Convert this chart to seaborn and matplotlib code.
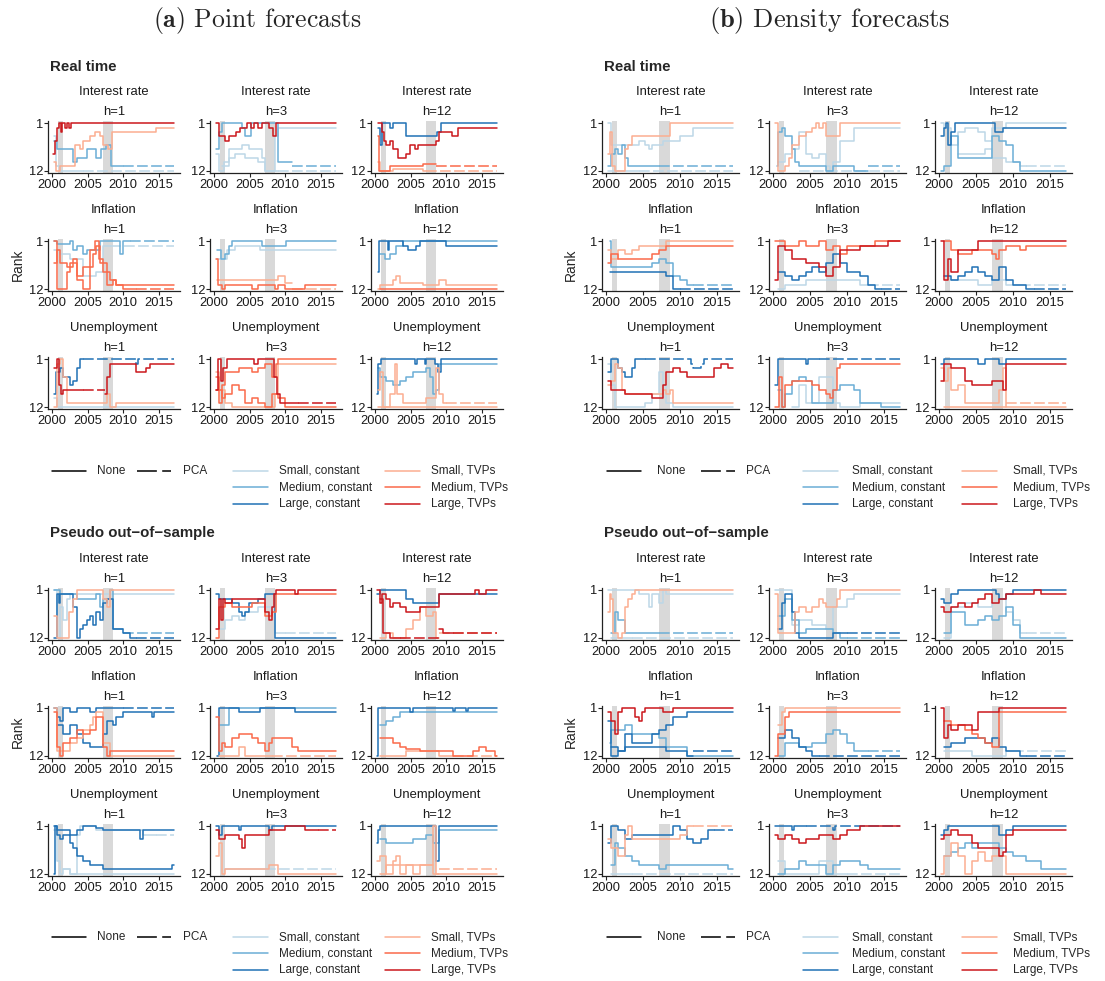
import numpy as np
import pandas as pd
import seaborn as sns
import matplotlib.pyplot as plt
from matplotlib.lines import Line2D

# ---- data ---------------------------------------------------------------
START, END = 2000.3, 2017.1
RECESSIONS = [(2000.85, 2001.5), (2007.15, 2008.6)]

VARIABLES = ['Interest rate', 'Inflation', 'Unemployment']
VAR_KEYS = ['IR', 'INF', 'UN']
HORIZONS = [1, 3, 12]
X_TICKS = [2000, 2005, 2010, 2015]
Y_TICKS = [1, 12]

MODELS = ['sc', 'mc', 'lc', 'st', 'mt', 'lt']
MODEL_LABELS = ['Small, constant', 'Medium, constant', 'Large, constant',
                'Small, TVPs', 'Medium, TVPs', 'Large, TVPs']
MODEL_COLORS = ['#BDD7E7', '#6BAED6', '#2171B5', '#FCAE91', '#FB6A4A', '#CB181D']

# rank paths: (model, first linetype n=None / p=PCA, "year:rank ..."), '|' toggles linetype
POINT_REALTIME = {
    'IR1': [('sc', 'n', "2000.3:4 2000.6:11 2001.15:12 | 2004.4:12"),
            ('mc', 'n', "2000.3:5 2000.65:7 2003.0:10 2003.45:9 2004.9:7 2006.25:9 2006.85:7 2007.6:6 2008.3:11 | 2009.95:11"),
            ('st', 'n', "2000.3:10 2000.6:12 2001.15:11 2003.1:11 2003.3:6 2003.95:7 2004.4:5 2005.3:4 2006.1:3 2006.75:4 2007.2:6 2007.9:7 2008.4:3 2014.6:2"),
            ('lt', 'n', "2000.2:8 2000.5:5 2000.65:2 2000.95:1 2001.25:3 2001.45:1 2001.8:2 2002.1:1 2002.4:2 2002.7:1")],
    'IR3': [('sc', 'n', "2000.3:8 2000.65:12 2001.45:10 2002.1:7 2003.95:6 2004.9:7 2006.75:9 2007.2:12 2008.6:4 2009.0:2"),
            ('sc', 'n', "2001.15:11 2002.1:9 2003.0:8 2004.4:9 2006.25:10 2007.2:12 | 2009.0:12"),
            ('mc', 'n', "2000.3:7 2000.65:3 2001.15:1 2003.95:2 2004.4:4 2005.2:1 2008.6:1 2009.0:10 | 2010.9:11"),
            ('lt', 'n', "2000.3:1 2000.65:4 2001.6:5 2002.1:4 2003.1:3 2003.65:2 2004.7:1 2005.2:2 2005.6:1 2006.25:2 2006.75:1 2007.7:2 2008.3:4 2008.7:1")],
    'IR12': [('st', 'n', "2000.4:10 2000.65:12 2002.5:11.5 2006.75:12 | 2007.2:12"),
             ('mt', 'n', "2000.4:4 2000.6:12 2002.1:11 2006.75:10.5 | 2008.6:11"),
             ('lc', 'n', "2000.4:2 2000.65:6 2000.95:1 2002.1:2 2002.5:1 2003.95:1 2004.4:4 2008.4:4 2008.7:3 2009.3:1"),
             ('lt', 'n', "2000.4:1 2000.95:3 2001.25:5 2001.6:6 2002.1:5 2002.5:7 2003.2:9 2004.4:8 2004.9:6 2005.6:7 2006.1:6 2008.6:5 2009.0:3 2010.75:4 2011.7:2")],
    'INF1': [('sc', 'n', "2000.3:3 2001.15:4 2002.5:5 2004.4:9 2006.25:8 2007.2:2 | 2008.1:2"),
             ('mc', 'n', "2000.3:1 2000.65:1.5 2002.5:1 2003.0:3 2003.45:2 2004.4:4 2004.9:3 2006.75:1 2009.3:1 2009.5:4 2009.95:1 | 2010.9:1"),
             ('mt', 'n', "2000.3:1 2000.65:12 2001.8:12 2002.1:8 2002.5:6 2003.45:10 2004.4:12 2005.3:7 2005.8:4 2006.25:2 2006.75:6 2007.7:11 2008.6:10 2009.0:11 2009.95:12 | 2011.8:12"),
             ('mt', 'n', "2000.3:6 2000.65:3 2001.15:6 2002.1:7 2003.0:5 2003.45:9 2004.4:7 2005.3:3 2006.1:1 2006.55:5 2007.2:8 2008.1:10 2009.0:11")],
    'INF3': [('sc', 'n', "2000.5:5 2001.45:5 2001.9:3 2003.0:2 2006.45:3"),
             ('mc', 'n', "2000.5:3 2000.95:5 2001.6:4 2002.1:2 2002.5:1 2006.75:2 2010.15:1"),
             ('st', 'n', "2000.5:10 2001.6:10 2009.0:9 2009.95:10.5 | 2010.9:12"),
             ('mt', 'n', "2000.3:5 2000.6:11 2001.15:12 2001.6:11 2005.3:12 2006.25:11 2008.6:12 2009.0:11 2009.95:12 2012.75:11")],
    'INF12': [('mc', 'n', "2000.65:4 2001.45:5 2002.1:4 2003.0:2 2003.95:1"),
              ('lc', 'n', "2000.4:8 2000.6:1 2001.8:3 2002.0:1 2003.95:2 2004.7:3 2005.8:2 2006.25:1 2009.95:2"),
              ('st', 'n', "2000.5:12 2000.65:11 2002.5:10 2003.0:9 2003.45:10.5 2006.75:11 2009.0:10 2009.95:11"),
              ('mt', 'n', "2000.65:12")],
    'UN1': [('sc', 'n', "2000.3:10 2000.65:12"),
            ('st', 'n', "2000.3:12 2000.65:2 2001.15:1 2001.6:5 2002.1:11 2007.2:11 2007.7:9 2008.1:12 2009.0:11"),
            ('lc', 'n', "2000.3:9 2000.6:4 2001.15:3 2001.6:5 2002.5:7 2003.0:6 2003.45:3 2003.95:1 | 2004.4:1 2011.8:2 2012.1:1"),
            ('lt', 'n', "2000.3:3 2000.65:1 2000.95:7 2001.35:9 2001.6:8 | 2004.4:8 | 2007.5:9 2007.7:5 2008.1:2 2011.4:2 2011.8:4 2013.25:3 2013.7:2")],
    'UN3': [('st', 'n', "2000.3:4 2000.65:8 2001.6:11 2002.5:12 2007.2:12 2008.6:9 2009.0:2"),
            ('mt', 'n', "2000.3:5 2000.65:11 2001.15:7 2001.6:4 2003.45:3 2005.3:4 2006.25:3 2007.2:2 2008.1:5 2008.7:2 2009.0:1"),
            ('mt', 'n', "2000.3:8 2001.15:10 2001.6:9 2002.5:7 2003.45:8 2004.4:11 2005.3:10 2006.25:11 2007.2:12 2008.1:9 2009.0:10 2009.95:12"),
            ('lt', 'n', "2000.3:8 2000.6:1 2000.95:6 2001.35:3 2001.9:1 2005.6:2 2006.25:1 2007.95:1 2008.4:5 2008.9:9 2009.3:11 | 2011.8:11")],
    'UN12': [('st', 'n', "2000.5:12"),
             ('st', 'n', "2000.4:8 2000.65:4 2001.15:12 2002.1:9 2002.8:2 2003.1:9 2003.95:11 2007.2:10 2008.6:3 2009.0:9 2009.5:11 | 2009.95:11"),
             ('mc', 'n', "2000.4:3 2000.65:5 2001.6:6 2002.5:7 2003.45:6 2004.4:5 2005.3:4 2007.2:3 2007.7:5 2008.1:9 2008.6:8 2009.0:2"),
             ('lc', 'n', "2000.3:9 2000.5:2 2000.85:1 2005.6:2 2005.9:1 2007.05:2 2007.2:1 2008.4:2 2008.9:4 2009.3:1")],
}

POINT_PSEUDO = {
    'IR1': [('sc', 'n', "2000.3:1 2000.65:12 2001.15:5 2001.6:8 2002.1:3 2002.5:2"),
            ('st', 'n', "2000.3:7 2000.65:12 2002.1:12 2002.4:6 2003.0:3 2003.45:1 2006.75:1 2007.2:3 2007.7:5 2008.1:1"),
            ('mc', 'n', "2000.3:1 2001.15:2 2003.0:2 2003.45:3 2005.3:3 2006.25:2 2006.75:5 2007.2:3 2008.1:1 2008.6:10 | 2009.95:11"),
            ('lc', 'n', "2000.3:12 2000.65:2 2000.95:4 2001.15:2 2002.5:2 2003.0:5 2003.45:12 2003.95:10 2004.4:9 2004.9:8 2005.3:7 2005.8:9 2006.25:6 2006.75:8 2007.2:4 2007.7:3 2008.1:3 2008.6:10 2009.95:11 2010.9:12 | 2011.8:12")],
    'IR3': [('sc', 'n', "2000.65:10 2001.6:8 2002.5:7 2003.45:8 2004.4:6 2006.25:5 2008.1:6 2008.6:11 | 2009.95:11"),
            ('lc', 'n', "2000.3:2 2000.65:3 2002.5:4 2003.45:6 2003.95:7 2004.4:6 2004.9:4 2006.25:3 2007.2:2 2008.1:2 2008.6:12"),
            ('mt', 'n', "2000.3:12 2000.65:5 2001.6:4 2002.5:5 2005.3:4 2007.2:7 2008.1:6 2008.7:2"),
            ('lt', 'n', "2000.3:10 2000.65:3 2000.95:8 2001.35:3 2001.6:4 2002.5:3 2006.75:3 2007.2:6 2007.7:8 2008.1:5 2008.4:2 2008.7:1 2010.9:1 2011.4:2 2011.8:1")],
    'IR12': [('st', 'n', "2000.65:12 2001.6:11 2002.5:12 2004.4:10 2005.3:8 2006.25:5 2007.2:7 2008.1:6 2008.6:12 | 2009.0:11"),
             ('lc', 'n', "2000.3:2 2000.65:1 2003.45:1 2004.4:3 2005.3:4 2008.1:4 2009.0:2"),
             ('lt', 'n', "2000.65:3 2001.15:11 2002.1:12 | 2003.45:12 | 2009.0:10 2009.5:11 | 2010.9:11"),
             ('lt', 'n', "2000.3:1 2000.65:4 2000.95:2 2001.6:3 2002.1:5 2002.5:4 2003.45:5 2004.4:6 2006.25:5 2008.1:5 2009.0:2 2013.7:2 2014.0:1 2014.6:2 2015.55:1")],
    'INF1': [('st', 'n', "2000.3:1 2000.65:11 2001.6:11 2002.5:9 2003.45:8 2004.4:6 2005.3:5 2005.8:3 2006.25:2 2007.2:9 2008.1:12"),
             ('mt', 'n', "2000.3:2 2000.65:10 2001.15:12 2001.6:9 2002.5:8 2003.45:6 2004.4:7 2005.3:6 2006.25:3 2007.2:10 2007.7:12 2008.1:11"),
             ('lc', 'n', "2000.3:1 2000.65:3 2001.15:4 2001.6:1 2002.5:2 2003.45:1 2005.3:2 2006.25:1 | 2009.95:1"),
             ('lc', 'n', "2000.65:5 2001.6:7 2002.5:5 2003.45:7 2004.4:9 2005.3:10 2007.2:7 2007.7:4 2008.6:5 2009.0:3 2009.95:2 2014.0:3 2014.3:2")],
    'INF3': [('st', 'n', "2000.65:12 2003.45:10 2004.4:12 | 2008.1:12"),
             ('mt', 'n', "2000.3:3 2000.65:11 2001.15:9 2001.6:10 2002.5:8 2003.45:7 2004.4:7 2005.3:8 2006.25:9 2007.2:11 2007.7:9 2008.1:8 2010.9:10 2011.8:11"),
             ('mc', 'n', "2000.65:5 2001.6:5 2002.1:1"),
             ('lc', 'n', "2000.5:12 2000.65:1 2002.5:1 2003.45:2 2006.25:2 2006.45:1 2010.9:1 2011.4:2")],
    'INF12': [('st', 'n', "2000.65:12 2004.4:11 2007.2:11 2009.0:12 | 2010.9:12"),
              ('mt', 'n', "2000.65:8 2002.5:9 2003.45:10 2004.4:10.5 2006.25:11 2010.9:12 2013.7:11 2014.6:10 2015.55:11 2016.8:12"),
              ('mc', 'n', "2000.65:5 2001.6:4 2002.5:3 2003.45:2"),
              ('lc', 'n', "2000.3:12 2000.5:1 2004.9:2 2005.3:1 2010.9:1.8 2011.2:1 2012.75:1.8 2013.05:1")],
    'UN1': [('sc', 'n', "2001.6:11 2002.5:12"),
            ('sc', 'n', "2000.3:2 2000.65:9 2001.15:12 2001.6:11 2002.5:12 2003.45:3 2003.95:1 2006.25:2 2012.75:3 | 2014.6:3"),
            ('lc', 'n', "2000.3:1 2000.65:2 2002.5:3 2003.45:2 2004.4:1 2006.25:1.5 2007.2:2 2011.8:2 2012.3:4 2012.75:2"),
            ('lc', 'n', "2000.3:12 2000.5:1 2000.65:3 2001.15:4 2001.6:3 2002.5:5 2003.0:6 2003.45:8 2004.4:9 2005.3:10 2007.2:11 2016.8:10")],
    'UN3': [('sc', 'n', "2001.6:11 | 2007.2:11"),
            ('st', 'n', "2000.3:8 2000.65:5 2001.15:12 2001.6:11 2007.2:11 2007.7:10 2008.6:10 2009.0:12"),
            ('lc', 'n', "2000.3:1 2000.65:3 2001.15:1 2003.45:2 2003.75:1 2007.7:2 2008.1:1"),
            ('lt', 'n', "2000.3:2 2000.65:4 2001.6:3 2003.45:4 2003.95:6 2004.4:3 2007.2:3 2007.7:2 2009.0:2 2009.95:1 2011.8:1 2012.75:2 | 2014.6:2")],
    'UN12': [('st', 'n', "2000.65:12 2001.6:10 2007.2:10 2008.1:12 | 2009.0:11"),
             ('st', 'n', "2000.3:9 2000.65:8 2001.6:12 2002.5:9 2003.0:8 2003.45:12 2004.4:10 2005.3:12 2006.25:10 2007.2:10 2008.1:1 2008.6:12"),
             ('mc', 'n', "2000.65:4 2001.6:5 2003.45:5 2005.3:4 2007.2:3 2008.1:5 2009.0:2"),
             ('lc', 'n', "2000.3:5 2000.5:2 2000.65:1 2008.6:9 2009.0:1")],
}

DENSITY_REALTIME = {
    'IR1': [('sc', 'n', "2000.3:12 | 2004.4:12"),
            ('mc', 'n', "2000.3:11 2000.65:8 2001.15:7 2001.6:8 2002.1:6 2002.5:9 2003.0:11 | 2007.2:11"),
            ('sc', 'n', "2000.3:1 2000.65:6 2003.45:6 2004.4:5 2005.3:6 2005.8:7 2006.25:6 2007.7:5 2009.0:5 2009.95:4 2011.8:2"),
            ('st', 'n', "2000.3:8 2000.6:3 2000.85:11 2001.15:12 2002.1:12 2002.5:7 2003.0:6 2003.45:4 2008.1:4 2008.6:1")],
    'IR3': [('sc', 'p', "2003.45:12"),
            ('sc', 'n', "2000.65:10 2001.6:8 2002.5:7 2003.45:3 2004.4:8 2005.3:9 2006.25:8 2007.2:11 2007.7:12 2008.1:10 2009.0:5 2010.9:2"),
            ('mc', 'n', "2000.5:11 2000.65:3 2001.15:2 2001.6:4 2002.5:7 2003.0:10 2003.45:11 2007.2:12 2008.1:11 2010.9:12 | 2012.75:11"),
            ('st', 'n', "2000.3:1 2000.65:12 2001.6:11 2002.1:9 2002.5:6 2003.45:4 2004.4:3 2005.3:2 2005.8:1 2006.25:2 2006.75:1 2007.2:4 2008.1:4 2009.0:1")],
    'IR12': [('sc', 'n', "2002.5:8 2004.4:8 2006.25:7 2007.2:9 2009.0:10 2010.9:11 | 2011.8:11"),
             ('mc', 'n', "2000.3:12 2000.65:11 2001.6:4 2002.5:9 2006.25:9 2007.2:4 2008.1:5 2009.0:6 2009.95:10 2010.9:12"),
             ('sc', 'n', "2000.3:1 2000.65:2 2001.6:6 2002.5:3 2003.45:2 2005.3:3 2006.25:5 2007.2:2 2009.0:1"),
             ('lc', 'n', "2000.3:4 2000.65:2 2000.95:1 2001.25:6 2001.6:3 2002.1:1 2007.2:1 2007.5:3 2008.6:2")],
    'INF1': [('lc', 'n', "2000.5:8 2008.1:9 2009.0:12 | 2009.95:12"),
             ('mc', 'n', "2000.5:1 2000.65:7 2006.25:6 2007.2:5 2008.1:6 2009.0:9 2009.95:10 2010.9:11 | 2011.8:11"),
             ('mt', 'n', "2000.3:6 2000.65:4 2001.6:5 2006.25:4 2007.2:3 2008.1:2"),
             ('st', 'n', "2000.3:3 2000.65:5 2001.6:3 2002.5:4 2003.45:3 2004.4:2 2008.1:1")],
    'INF3': [('sc', 'n', "2000.65:12 2001.6:11 2004.4:10 2009.0:10 2011.8:11 | 2012.75:11"),
             ('lc', 'n', "2000.65:8 2001.6:9 2002.5:10 2003.45:9 2004.4:8 2005.3:7 2006.25:8 2007.2:6 2008.1:4 2009.0:6 2009.95:8 2011.8:9 2012.75:11 2013.7:12 | 2014.6:12"),
             ('mt', 'n', "2000.3:1 2001.6:2 2003.45:1 2004.4:2 2006.25:1 2007.2:3 2008.1:2 2009.0:4 2009.95:2 2013.7:1"),
             ('lt', 'n', "2000.3:10 2000.65:2 2001.6:3 2002.5:5 2004.4:6 2006.25:7 2007.2:9 2008.1:7 2009.0:3 2011.8:2 2015.55:1")],
    'INF12': [('sc', 'n', "2001.6:10 2005.3:11 2007.2:10 2009.0:11 | 2010.9:11"),
              ('lc', 'n', "2000.65:9 2001.6:10 2002.5:9 2003.45:8 2004.4:7 2005.3:8 2006.25:9 2007.2:10 2008.1:7 2009.0:10 2009.95:11 2011.8:12 | 2012.75:12"),
              ('mt', 'n', "2000.65:1 2001.6:3 2002.5:4 2004.4:3 2007.2:4 2007.7:5 2008.1:3 2009.0:2 2010.9:3 2011.8:2"),
              ('lt', 'n', "2000.3:1 2000.65:10 2001.15:5 2001.6:8 2002.5:3 2004.4:3 2005.3:1")],
    'UN1': [('sc', 'n', "2000.3:2 2000.65:7 2001.15:12 2005.3:11 2006.25:9 2007.2:4 2007.7:7 2008.1:11 2009.0:12"),
            ('st', 'n', "2000.3:7 2000.65:6 2001.15:2 2001.6:3 2002.1:8 2002.5:9 2007.7:8 2008.1:9 2008.6:8 2009.0:11"),
            ('lc', 'n', "2000.3:4 2000.65:1 2001.6:3 2002.1:4 2002.5:5 2003.45:3 2003.95:1 | 2005.3:1 2011.4:2 2011.8:3 2012.75:2 2013.25:1"),
            ('lt', 'n', "2000.3:6 2000.65:8 2002.5:9 2006.25:10 2007.7:7 2008.1:4 2009.0:3 2009.95:4 2010.9:5 2014.6:3 2015.55:2 2016.5:3")],
    'UN3': [('sc', 'n', "2002.5:12 2003.45:7 2004.4:11 2006.25:5 2008.1:11 2009.0:12 2011.8:11"),
            ('mc', 'n', "2000.65:8 2001.15:12 2001.6:9 2002.5:6 2003.45:5 2004.4:6 2005.3:11 2008.1:8 2009.0:7 2010.9:8 2011.8:11 2014.6:12"),
            ('mt', 'n', "2000.3:12 2000.85:5 2001.15:12 2001.6:7 2002.5:6 2004.4:6 2005.3:7 2006.25:8 2007.2:9 2007.7:10 2008.1:8 2008.6:3 2009.0:2"),
            ('lc', 'n', "2000.3:7 2000.65:1 2004.4:2 2004.7:1 | 2006.25:1")],
    'UN12': [('st', 'n', "2000.65:12 2007.2:12 | 2009.0:11"),
             ('st', 'n', "2000.3:3 2000.65:6 2001.15:3 2001.6:8 2002.5:7 2003.45:11 2008.1:8 2008.6:3 2009.0:12"),
             ('lt', 'n', "2000.3:6 2000.65:2 2001.6:3 2003.45:6 2004.4:7 2007.2:6 2008.6:8 2009.0:2"),
             ('lc', 'n', "2000.3:2 2000.65:1 2005.3:2 2006.25:1 2008.1:2 2009.0:1")],
}

DENSITY_PSEUDO = {
    'IR1': [('sc', 'n', "2000.65:12 | 2003.45:12"),
            ('mc', 'n', "2000.65:11 2001.15:6 2001.6:8 2002.5:11 | 2007.2:11"),
            ('sc', 'n', "2000.3:1 2004.4:2 2005.8:5 2006.25:2 2007.2:4 2007.7:1 2008.1:2"),
            ('st', 'n', "2000.3:6 2000.5:2 2000.65:3 2000.95:11 2001.6:12 2002.1:11 2002.5:5 2003.0:3 2003.45:2 2003.95:1")],
    'IR3': [('sc', 'n', "2000.3:1 2002.5:9 2003.45:8 2005.3:9 2007.2:10 2008.1:5 2009.95:3 2010.9:2"),
            ('mc', 'n', "2000.65:7 2001.6:3 2002.5:8 2003.45:11 2004.4:10 2007.2:10 2008.1:11 2009.0:12 | 2009.95:12"),
            ('lc', 'n', "2000.65:10 2001.15:4 2001.6:2 2002.5:6 2003.0:11 2003.45:12 2007.2:12 2008.1:11 | 2009.95:11"),
            ('st', 'n', "2000.3:2 2000.65:11 2002.5:11 2003.0:6 2003.45:5 2004.4:6 2005.3:5 2006.25:3 2006.75:4 2007.2:5 2008.1:5 2008.6:3 2009.0:1")],
    'IR12': [('sc', 'n', "2000.65:12 2001.6:5 2003.45:4 2005.3:5 2007.2:4 2008.1:3 2009.0:6 2009.95:8 2010.9:11 | 2011.8:11"),
             ('mc', 'n', "2000.65:11 2001.6:6 2003.45:9 2005.3:8 2006.25:7 2007.2:8 2008.1:7 2009.0:5 2009.95:9 2010.9:12"),
             ('lc', 'n', "2000.3:3 2000.65:4 2001.6:2 2002.5:1 2007.7:2 2008.1:3 2009.0:2 2009.95:1"),
             ('lt', 'n', "2000.3:5 2000.65:6 2001.6:5 2002.5:4 2003.45:5 2004.4:4 2005.3:3 2006.25:2 2007.2:4 2008.1:3 2009.0:2 2012.75:1 2013.7:2")],
    'INF1': [('mc', 'n', "2000.5:9 2000.65:6 2002.5:5 2003.45:7 2007.2:8 2008.1:10 2010.9:12"),
             ('lc', 'n', "2000.65:10 2001.6:11 2002.5:10 2008.1:11 2010.9:12 | 2011.8:11"),
             ('lc', 'n', "2000.3:4 2000.65:12 2001.6:11 2002.5:7 2003.45:9 2006.25:7 2007.2:6 2008.1:5 2009.0:3 2010.9:2"),
             ('lt', 'n', "2000.3:2 2000.65:4 2001.15:7 2001.6:2 2002.1:1 2003.45:1 2003.95:3 2004.4:4 2004.9:2 2005.3:1 2007.7:2 2009.0:1")],
    'INF3': [('mc', 'n', "2000.65:12 2001.6:9 2003.45:10 2005.3:9 2007.2:7 2008.1:6 2009.0:7 2009.95:9 2010.9:11 | 2012.75:11"),
             ('lc', 'n', "2000.65:8 2001.6:6 2002.5:8 2003.45:10 2004.4:11 2005.3:12 | 2006.25:12"),
             ('st', 'n', "2000.65:5 2001.15:2 2001.6:1"),
             ('mt', 'n', "2000.3:12 2000.65:7 2001.6:3 2002.1:2")],
    'INF12': [('sc', 'n', "2000.65:11 2004.4:12 2009.0:11 | 2009.95:11"),
              ('lc', 'n', "2000.65:10 2001.6:9 2003.45:8 2005.3:8 2006.25:9 2007.2:8 2008.1:10 2009.0:11 2010.9:12 | 2011.8:12"),
              ('mt', 'n', "2000.65:4 2001.6:5 2003.45:6 2004.4:7 2005.3:8 2006.25:9 2007.2:10 2008.1:2"),
              ('lt', 'n', "2000.3:1 2000.65:8 2001.15:5 2001.6:6 2002.5:5 2004.4:6 2005.3:2 2008.1:1")],
    'UN1': [('sc', 'n', "2000.65:12 | 2003.45:12"),
            ('mc', 'n', "2000.65:10 2001.15:5 2001.6:6 2002.5:8 2003.45:9 2004.4:10 2007.2:11 2008.1:10 2016.5:11"),
            ('st', 'n', "2000.3:4 2000.65:6 2001.6:8 2002.5:3 2003.0:1 2003.45:4 2009.95:3 2010.9:1 | 2011.8:1"),
            ('lc', 'n', "2000.3:5 2000.65:1 2001.6:2 2002.5:4 2003.45:3 2008.1:3 2009.0:1 2009.95:2 2010.9:4 2011.8:5 2012.75:4 2013.7:2 | 2014.6:2")],
    'UN3': [('sc', 'n', "2000.65:9 2001.6:12 2005.3:12 2006.25:9 2008.1:12 | 2009.95:12"),
            ('mc', 'n', "2000.65:12 2001.6:11 2003.45:9 2004.4:10 2007.2:12 2008.1:10 2009.0:9 2011.8:10 2012.75:11"),
            ('lt', 'n', "2000.3:3 2000.65:4 2001.6:3 2002.5:4 2003.45:5 2004.4:4 2006.25:3 2008.1:4 2009.0:3 2009.95:2 2011.8:1"),
            ('lc', 'n', "2000.3:1 2002.5:2 2002.8:1 | 2004.4:1 2008.1:2 2008.4:1")],
    'UN12': [('st', 'n', "2000.3:12 2000.65:8 2001.6:5 2002.5:8 2003.45:12 2004.4:9 2005.3:7 2006.25:9 2007.2:8 2009.0:12"),
             ('mc', 'n', "2000.65:8 2001.6:7 2002.5:6 2003.45:5 2004.4:6 2005.3:5 2008.1:6 2009.0:7 2009.95:8 2011.8:9 2013.7:11"),
             ('lt', 'n', "2000.3:4 2000.65:3 2001.6:2 2002.5:3 2004.4:5 2005.3:6 2008.1:8 2008.6:7 2009.0:3 2009.95:2"),
             ('lc', 'n', "2000.3:3 2000.65:2 2001.15:1 2008.1:3 2009.0:2 2009.95:1")],
}

# ---- layout (pixels in a 1105 x 981 canvas) ------------------------------
FIG_W, FIG_H = 1105, 981
BLOCK_X = {'left': [48, 210, 371], 'right': [602, 769, 935]}
BLOCK_W = {'left': 132, 'right': 137}
ROW_RANK1 = {'top': [123.3, 241.5, 359.5], 'bottom': [590, 708, 826]}
PX_PER_RANK = 47.5 / 11
XLIM = (1999.46, 2017.94)
YLIM = (12.55, 0.45)
PCA_DASH = (7, 2.2)


def parse_paths(series):
    """turn '(model, style, path)' strings into a long frame of step segments"""
    rows = []
    sid = 0
    for model, style, path in series:
        cur, toggle = [], False
        for tok in path.split():
            if tok == '|':
                toggle = True
                continue
            yr, rk = (float(v) for v in tok.split(':'))
            if toggle and cur:
                cur.append((yr, cur[-1][1]))
                rows += [(sid, model, style, x, y) for x, y in cur]
                sid += 1
                style = 'p' if style == 'n' else 'n'
                cur = []
                toggle = False
            cur.append((yr, rk))
        cur.append((END, cur[-1][1]))
        rows += [(sid, model, style, x, y) for x, y in cur]
        sid += 1
    df = pd.DataFrame(rows, columns=['sid', 'model', 'pca', 'year', 'rank'])
    df['pca'] = df['pca'].map({'n': 'None', 'p': 'PCA'})
    return df


def fig_rect(x_px, w_px, rank1_px):
    top = rank1_px - (1 - YLIM[1]) * PX_PER_RANK
    h = (YLIM[0] - YLIM[1]) * PX_PER_RANK
    return [x_px / FIG_W, 1 - (top + h) / FIG_H, w_px / FIG_W, h / FIG_H]


def draw_block(fig, data, side, level):
    palette = dict(zip(MODELS, MODEL_COLORS))
    for r, (vk, vname) in enumerate(zip(VAR_KEYS, VARIABLES)):
        for c, h in enumerate(HORIZONS):
            ax = fig.add_axes(fig_rect(BLOCK_X[side][c], BLOCK_W[side], ROW_RANK1[level][r]))
            for a, b in RECESSIONS:
                ax.axvspan(a, b, color='#D9D9D9', lw=0, zorder=0)
            df = parse_paths(data[f'{vk}{h}'])
            sns.lineplot(data=df, x='year', y='rank', hue='model', style='pca',
                         units='sid', estimator=None, sort=False,
                         hue_order=MODELS, style_order=['None', 'PCA'],
                         palette=palette, dashes={'None': '', 'PCA': PCA_DASH},
                         drawstyle='steps-post', linewidth=1.1,
                         legend=False, ax=ax)
            ax.set_xlim(*XLIM)
            ax.set_ylim(*YLIM)
            ax.set_xticks(X_TICKS)
            ax.set_yticks(Y_TICKS)
            ax.set_xlabel('')
            ax.set_ylabel('')
            sns.despine(ax=ax)
            for s in ['left', 'bottom']:
                ax.spines[s].set_linewidth(0.9)
                ax.spines[s].set_color('#222222')
            ax.tick_params(length=2.6, width=0.8, color='#222222',
                           labelsize=9.3, labelcolor='#1a1a1a')
            ax.tick_params(axis='x', pad=1.5)
            ax.tick_params(axis='y', pad=1.0)
            ax.annotate(vname, xy=(0.5, 1), xycoords='axes fraction',
                        xytext=(0, 29), textcoords='offset pixels',
                        ha='center', va='center', fontsize=9.4, color='#1a1a1a')
            ax.annotate(f'h={h}', xy=(0.5, 1), xycoords='axes fraction',
                        xytext=(0, 9), textcoords='offset pixels',
                        ha='center', va='center', fontsize=9.4, color='#1a1a1a')


def px_text(fig, x, y, s, **kw):
    fig.text(x / FIG_W, 1 - y / FIG_H, s, **kw)


def px_line(fig, x0, x1, y, color, dashes=None):
    ln = Line2D([x0 / FIG_W, x1 / FIG_W], [1 - y / FIG_H] * 2,
                transform=fig.transFigure, color=color, lw=1.1)
    if dashes:
        ln.set_dashes(dashes)
    fig.add_artist(ln)


# legend anchor points: line start / text start for None, PCA, colour column 1 and 2
LEGEND_X = {
    'left': [(52, 97), (137, 183), (233, 279), (385, 431)],
    'right': [(607, 657), (701, 746), (803, 852), (962, 1013)],
}


def draw_legend(fig, side, y0):
    rows = [y0, y0 + 16.3, y0 + 32.5]
    (nx, ntx), (px_, ptx), (c1, t1), (c2, t2) = LEGEND_X[side]
    px_line(fig, nx, nx + 34, rows[0], 'black')
    px_text(fig, ntx, rows[0], 'None', fontsize=8.5, va='center')
    px_line(fig, px_, px_ + 34, rows[0], 'black', dashes=(13, 3.5))
    px_text(fig, ptx, rows[0], 'PCA', fontsize=8.5, va='center')
    for i, (lab, col) in enumerate(zip(MODEL_LABELS, MODEL_COLORS)):
        lx, tx = (c1, t1) if i < 3 else (c2, t2)
        y = rows[i % 3]
        px_line(fig, lx, lx + 35, y, col)
        px_text(fig, tx, y, lab, fontsize=8.5, va='center')


sns.set_theme(style='ticks')
plt.rcParams['font.family'] = ['Liberation Sans', 'DejaVu Sans']
plt.rcParams['mathtext.fontset'] = 'cm'

fig = plt.figure(figsize=(FIG_W / 100, FIG_H / 100), dpi=100)

draw_block(fig, POINT_REALTIME, 'left', 'top')
draw_block(fig, POINT_PSEUDO, 'left', 'bottom')
draw_block(fig, DENSITY_REALTIME, 'right', 'top')
draw_block(fig, DENSITY_PSEUDO, 'right', 'bottom')

px_text(fig, 257, 21, r'$\mathbf{(a)}$ Point forecasts', family='cmr10',
        fontsize=18.5, ha='center', va='center')
px_text(fig, 830, 21, r'$\mathbf{(b)}$ Density forecasts', family='cmr10',
        fontsize=19, ha='center', va='center')

for side, bx in [('left', 50), ('right', 604)]:
    px_text(fig, bx, 67, 'Real time', fontsize=10.8, fontweight='bold', va='center')
    px_text(fig, bx, 533, 'Pseudo out\u2212of\u2212sample', fontsize=10.8,
            fontweight='bold', va='center')
    draw_legend(fig, side, 471)
    draw_legend(fig, side, 937)

for rx in [18, 571]:
    for ry in [265, 732]:
        px_text(fig, rx, ry, 'Rank', fontsize=10, rotation=90,
                ha='center', va='center')

fig.savefig('out.png', dpi=100)
